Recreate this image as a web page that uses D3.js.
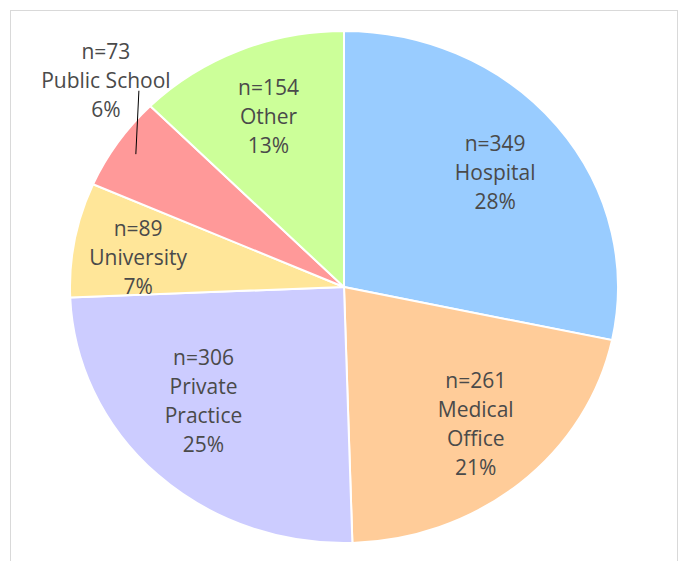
<!DOCTYPE html>
<html>
<head>
<meta charset="utf-8">
<script src="https://cdn.jsdelivr.net/npm/d3@7"></script>
<style>
  html, body { margin: 0; padding: 0; background: #fff; }
  svg { display: block; }
</style>
</head>
<body>
<div id="chart"></div>
<script>
// Slices in clockwise order starting at 12 o'clock
const CATEGORIES = ['Hospital', 'Medical Office', 'Private Practice', 'University', 'Public School', 'Other'];
const COUNTS = [349, 261, 306, 89, 73, 154];
const PERCENT_LABELS = ['28%', '21%', '25%', '7%', '6%', '13%'];
const LABEL_LINES = [['Hospital'], ['Medical', 'Office'], ['Private', 'Practice'], ['University'], ['Public School'], ['Other']];
const COLORS = ['#99CCFF', '#FFCC99', '#CCCCFF', '#FFE699', '#FF9999', '#CCFF99'];

// label placement: radius factor + angle nudge (deg) relative to slice middle
const LABEL_POS = [
  { r: 0.71, da: 0 },
  { r: 0.72, da: -2 },
  { r: 0.68, da: 6 },
  { r: 0.76, da: -2 },
  { r: 1.185, da: 8.5, leader: true },
  { r: 0.72, da: 0 }
];

const W = 684, H = 561;
const CX = 344, CY = 287, RX = 274, RY = 256;
const FONT = '"Open Sans", Lato, "DejaVu Sans", sans-serif';
const LINE_H = 29;

const svg = d3.select('#chart').append('svg')
  .attr('width', W)
  .attr('height', H);

// chart frame
svg.append('rect')
  .attr('x', 10.5).attr('y', 10.5)
  .attr('width', 667).attr('height', 580)
  .attr('fill', '#fff')
  .attr('stroke', '#d9d9d9')
  .attr('stroke-width', 1);

const data = CATEGORIES.map((c, i) => ({ cat: c, n: COUNTS[i], pct: PERCENT_LABELS[i], lines: LABEL_LINES[i], color: COLORS[i], pos: LABEL_POS[i] }));

const pie = d3.pie().value((d) => d.n).sort(null);
const arcs = pie(data);
const arc = d3.arc().innerRadius(0).outerRadius(RX);

const pieG = svg.append('g')
  .attr('transform', `translate(${CX},${CY}) scale(1,${RY / RX})`);

pieG.selectAll('path')
  .data(arcs)
  .join('path')
  .attr('d', arc)
  .attr('fill', (d) => d.data.color)
  .attr('stroke', '#fff')
  .attr('stroke-width', 2)
  .attr('vector-effect', 'non-scaling-stroke');

// point on the ellipse at angle a (radians, clockwise from top), radius factor k
function pt(a, k) {
  return [CX + RX * k * Math.sin(a), CY - RY * k * Math.cos(a)];
}

const labelG = svg.append('g');

arcs.forEach((d) => {
  const mid = (d.startAngle + d.endAngle) / 2;
  const a = mid + (d.data.pos.da * Math.PI) / 180;
  const [lx, ly] = pt(a, d.data.pos.r);
  const lines = [`n=${d.data.n}`, ...d.data.lines, d.data.pct];
  const top = ly - ((lines.length - 1) * LINE_H) / 2;

  const t = labelG.append('text')
    .attr('text-anchor', 'middle')
    .attr('font-family', FONT)
    .attr('font-size', '21px')
    .attr('fill', '#4a4a4a');
  lines.forEach((s, i) => {
    t.append('tspan')
      .attr('x', lx)
      .attr('y', top + i * LINE_H)
      .attr('dy', '0.35em')
      .text(s);
  });

  if (d.data.pos.leader) {
    const [sx, sy] = pt(mid, 0.92);
    labelG.append('line')
      .attr('x1', sx).attr('y1', sy)
      .attr('x2', lx + 33).attr('y2', ly + 10)
      .attr('stroke', '#000')
      .attr('stroke-width', 1);
  }
});
</script>
</body>
</html>
